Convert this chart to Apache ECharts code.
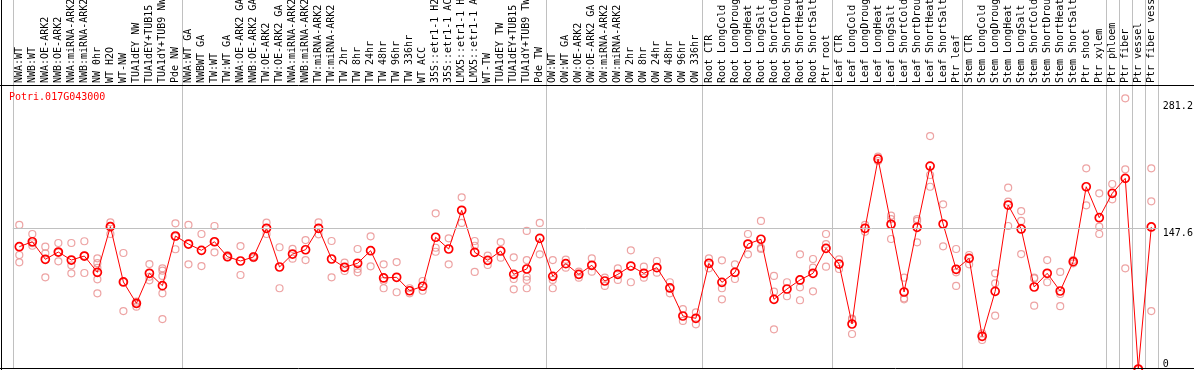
<!DOCTYPE html>
<html><head><meta charset="utf-8">
<script src="https://cdn.jsdelivr.net/npm/echarts@6/dist/echarts.min.js"></script>
<style>html,body{margin:0;padding:0;background:#fff}#c{width:1194px;height:370px}</style>
</head><body><div id="c"></div>
<script>
const chartTitle = 'Potri.017G043000';
const categories = [
 'NWA:WT','NWB:WT','NWA:OE-ARK2','NWB:OE-ARK2','NWA:miRNA-ARK2','NWB:miRNA-ARK2','NW 0hr','WT H2O','WT-NW','TUA1dEY NW','TUA1dEY+TUB15 NW','TUA1dY+TUB9 NW','Pde NW',
 'NWA:WT GA','NWBWT GA','TW:WT','TW:WT GA','NWA:OE-ARK2 GA','NWB:OE-ARK2 GA','TW:OE-ARK2','TW:OE-ARK2 GA','NWA:miRNA-ARK2','NWB:miRNA-ARK2','TW:miRNA-ARK2','TW:miRNA-ARK2','TW 2hr','TW 8hr','TW 24hr','TW 48hr','TW 96hr','TW 336hr','WT ACC','35S::etr1-1 H2O','35S::etr1-1 ACC','LMX5::etr1-1 H2O','LMX5::etr1-1 ACC','WT-TW','TUA1dEY TW','TUA1dEY+TUB15 TW','TUA1dY+TUB9 TW','Pde TW',
 'OW:WT','OW:WT GA','OW:OE-ARK2','OW:OE-ARK2 GA','OW:miRNA-ARK2','OW:miRNA-ARK2','OW 2hr','OW 8hr','OW 24hr','OW 48hr','OW 96hr','OW 336hr',
 'Root CTR','Root LongCold','Root LongDrought','Root LongHeat','Root LongSalt','Root ShortCold','Root ShortDrought','Root ShortHeat','Root ShortSalt','Ptr root',
 'Leaf CTR','Leaf LongCold','Leaf LongDrought','Leaf LongHeat','Leaf LongSalt','Leaf ShortCold','Leaf ShortDrought','Leaf ShortHeat','Leaf ShortSalt','Ptr leaf',
 'Stem CTR','Stem LongCold','Stem LongDrought','Stem LongHeat','Stem LongSalt','Stem ShortCold','Stem ShortDrought','Stem ShortHeat','Stem ShortSalt','Ptr shoot','Ptr xylem',
 'Ptr phloem','Ptr fiber','Ptr vessel','Ptr fiber vessel'
];
const groupStarts = [0,13,41,53,63,73,84,85,86,87];
const means = [
 128.3,133.5,115.1,122.7,114.3,118.5,101.4,149.3,91.3,68.9,100.4,87.4,139.5,
 131.1,124.5,133.5,117.8,113.3,117.5,147.6,107.0,120.6,125.1,147.6,115.4,106.7,110.9,124.1,95.5,96.2,82.1,86.8,138.2,125.9,166.5,122.4,114.0,123.8,99.3,104.9,137.1,
 97.2,110.5,99.3,108.8,92.3,99.3,108.0,100.4,106.3,85.0,55.6,53.2,
 110.9,90.9,101.4,131.1,136.1,73.1,83.9,93.4,100.4,126.6,
 110.1,47.2,147.6,220.3,151.8,80.8,148.6,212.9,152.1,104.6,
 116.1,34.3,81.5,172.0,146.9,86.0,100.4,81.8,112.6,191.2,158.7,
 184.3,200.0,0,149.0
];
const replicates = [
 [151.1,119.6,111.9],[141.6,131.9,129.3],[128.3,121.4,96.2],[132.2,122.4,113.0],[132.2,108.8,100.4],
 [134.0,118.9,100.7],[116.1,111.0,106.0,94.1,79.4],[153.9,150.3,141.6],[121.7,91.3,60.8],[70.6,68.2,65.4],
 [110.1,96.8,93.0],[105.6,103.1,97.6,79.4,52.4],[152.8,138.8,125.6],
 [151.1,109.8],[141.6,108.0],[150.0,133.5,122.4],[119.6,117.2],[129.0,98.6],[118.5,116.4],[153.5,141.6],
 [127.7,84.7],[126.0,115.7],[135.3,114.3],[153.9,141.3],[134.3,96.2],[111.5,102.8],[125.9,104.9,101.4],
 [139.2,107.7],[109.8,92.6,84.7],[112.2,80.5],[84.7,79.4],[92.3,82.1],[163.3,127.2,123.0],[137.1,109.8],
 [180.1,153.2],[134.3,129.3,101.8],[118.9,109.1],[133.2,116.8],[117.2,94.4,83.6],[144.8,114.3,96.8,93.4,84.7],
 [153.2,120.3],
 [114.3,93.4,84.7],[114.7,106.3],[102.1,95.8],[116.1,102.1],[95.8,87.1],[105.6,93.4],[124.5,91.0],
 [107.3,95.8],[113.3,101.0],[91.0,79.4],[62.9,50.4],[59.5,46.9],
 [116.1,105.6],[114.0,84.7,73.1],[109.8,94.4],[141.6,120.3],[155.3,127.0,126.0],[97.6,81.1,41.6],
 [91.0,76.3],[120.3,85.7,72.1],[115.4,106.3,81.5],[141.6,131.1,107.3],
 [115.1,104.9],[52.1,52.8,36.7],[151.1,144.0],[222.7,218.2],[160.8,157.3,136.4],[95.8,74.2,73.1],
 [157.3,155.3,132.9],[244.4,203.5,191.2],[172.8,128.7],[125.9,101.4,87.1],
 [119.6,109.8],[37.4,30.4],[100.4,89.9,55.9],[190.2,175.5,150.0],[165.7,155.3,120.6],[95.8,95.0,66.4],
 [114.3,91.0],[101.8,78.7,65.9],[114.3,110.9],[210.5,171.7],[184.3,149.3,141.6],
 [194.1,178.0],[284.0,209.5,105.6],[0,0,0],[210.5,175.9,60.8]
];
const yTickLabels = [0, 147.6, 281.2];
const yGridLines = [147.6];

const FONT = 'DejaVu Sans Mono';
const repData = [];
replicates.forEach((arr, i) => arr.forEach(v => repData.push([i, v])));

const chart = echarts.init(document.getElementById('c'), null, {renderer: 'canvas', width: 1194, height: 370});
chart.setOption({
  animation: false,
  backgroundColor: '#fff',
  title: {
    text: chartTitle, left: 9, top: 92, padding: 0,
    textStyle: {color: '#ff0000', fontSize: 10, fontWeight: 'normal', fontFamily: FONT}
  },
  grid: {left: 12.8, right: 36.2, top: 0, bottom: 1, containLabel: false, outerBoundsMode: 'none'},
  xAxis: {
    type: 'category', data: categories, position: 'top', offset: -85, boundaryGap: true,
    axisLine: {show: false}, axisTick: {show: false},
    axisLabel: {interval: 0, rotate: 90, margin: 2, fontSize: 10, fontFamily: FONT, color: '#000'},
    splitLine: {show: true, interval: (idx) => groupStarts.includes(idx), lineStyle: {color: '#c0c0c0', width: 1}}
  },
  yAxis: {
    type: 'value', min: 0, max: 387.1,
    axisLine: {show: false}, axisTick: {show: false}, axisLabel: {show: false}, splitLine: {show: false}
  },
  series: [
    {
      type: 'scatter', data: repData, symbol: 'circle', symbolSize: 7, z: 2,
      itemStyle: {color: 'rgba(0,0,0,0)', borderColor: '#e88c8c', borderWidth: 1.2},
      silent: true
    },
    {
      type: 'line', data: means, symbol: 'circle', symbolSize: 8, z: 3,
      itemStyle: {color: 'rgba(0,0,0,0)', borderColor: '#ff0000', borderWidth: 1.7},
      lineStyle: {color: '#ff0000', width: 1},
      silent: true,
      markLine: {
        silent: true, symbol: 'none', animation: false,
        data: yTickLabels.map(v => ({
          yAxis: v,
          lineStyle: {color: yGridLines.includes(v) ? '#c0c0c0' : 'rgba(0,0,0,0)', width: 1, type: 'solid'},
          label: {show: true, position: 'end', formatter: String(v), distance: 5,
                  verticalAlign: v === 0 ? 'bottom' : 'top',
                  color: '#000', fontSize: 10, fontFamily: FONT}
        }))
      }
    }
  ],
  graphic: [
    {type: 'line', shape: {x1: 0, y1: 85.5, x2: 1194, y2: 85.5}, style: {stroke: '#000', lineWidth: 1}, z: 10},
    {type: 'line', shape: {x1: 1.5, y1: 0, x2: 1.5, y2: 370}, style: {stroke: '#000', lineWidth: 1}, z: 10},
    {type: 'line', shape: {x1: 0, y1: 368.5, x2: 1194, y2: 368.5}, style: {stroke: '#000', lineWidth: 1}, z: 10}
  ]
});
</script></body></html>
